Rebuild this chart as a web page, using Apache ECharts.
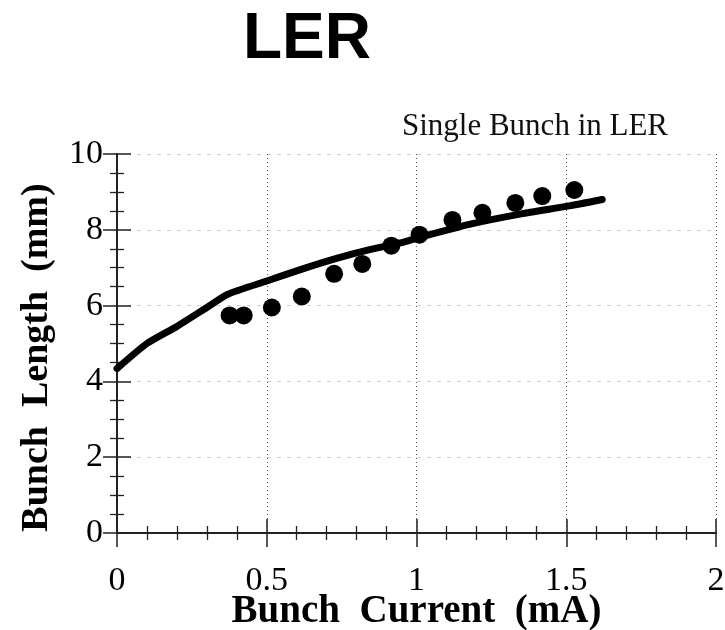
<!DOCTYPE html>
<html>
<head>
<meta charset="utf-8">
<script src="https://cdn.jsdelivr.net/npm/echarts@6/dist/echarts.min.js"></script>
<style>
  html, body { margin: 0; padding: 0; background: #fff; }
  #chart { width: 725px; height: 630px; }
</style>
</head>
<body>
<div id="chart"></div>
<script>
// Simulated bunch length vs. current (solid curve)
const curveCurrent = [0, 0.1, 0.2, 0.3, 0.37, 0.5, 0.62, 0.73, 0.84, 0.95, 1.01, 1.18, 1.35, 1.51, 1.62];
const curveLength  = [4.34, 5.0, 5.45, 5.95, 6.3, 6.65, 6.97, 7.24, 7.47, 7.66, 7.8, 8.15, 8.42, 8.63, 8.8];

// Measured single-bunch lengths (dots)
const measCurrent = [0.376, 0.423, 0.517, 0.617, 0.725, 0.819, 0.916, 1.01, 1.12, 1.22, 1.33, 1.42, 1.527];
const measLength  = [5.74, 5.74, 5.95, 6.24, 6.84, 7.1, 7.58, 7.87, 8.26, 8.45, 8.71, 8.89, 9.05];

const xTickLabels = ['0', '0.5', '1', '1.5', '2'];
const yTickLabels = ['0', '2', '4', '6', '8', '10'];

const serif = '"Liberation Serif", "Times New Roman", serif';
const sans = '"Liberation Sans", Arial, Helvetica, sans-serif';

const chart = echarts.init(document.getElementById('chart'), null, { renderer: 'canvas' });

// Frame line and inward-pointing ticks on all four sides
const frameLine = () => ({ show: true, lineStyle: { color: '#222', width: 2 } });
const majorTick = () => ({ show: true, inside: true, length: 14, lineStyle: { color: '#222', width: 1.5 } });
const minorTick = (n) => ({ show: true, splitNumber: n, length: 7, lineStyle: { color: '#222', width: 1.3 } });

chart.setOption({
  animation: false,
  backgroundColor: '#ffffff',
  grid: { left: 117, right: 9, top: 154, bottom: 97, containLabel: false, outerBoundsMode: 'none' },
  graphic: [
    {
      type: 'text',
      style: {
        x: 307, y: 40, text: 'LER',
        font: 'bold 64px ' + sans,
        fill: '#000', textAlign: 'center', textVerticalAlign: 'middle'
      }
    },
    {
      type: 'text',
      style: {
        x: 535, y: 127, text: 'Single Bunch in LER',
        font: '31px ' + serif,
        fill: '#111', textAlign: 'center', textVerticalAlign: 'middle'
      }
    }
  ],
  xAxis: [
    {
      type: 'value', min: 0, max: 2, interval: 0.5, position: 'bottom',
      name: 'Bunch  Current  (mA)', nameLocation: 'middle', nameGap: 59, nameMoveOverlap: false,
      nameTextStyle: { fontFamily: serif, fontWeight: 'bold', fontSize: 39, color: '#000' },
      axisLine: frameLine(), axisTick: majorTick(), minorTick: minorTick(5),
      axisLabel: {
        margin: 31, fontFamily: serif, fontSize: 34, color: '#000',
        formatter: (v) => xTickLabels[Math.round(v / 0.5)]
      },
      splitLine: { show: true, lineStyle: { color: '#555', width: 1, type: [1, 3] } }
    },
    {
      type: 'value', min: 0, max: 2, interval: 0.5, position: 'top',
      axisLine: frameLine(), axisTick: majorTick(), minorTick: minorTick(5),
      axisLabel: { show: false }, splitLine: { show: false }
    }
  ],
  yAxis: [
    {
      type: 'value', min: 0, max: 10, interval: 2, position: 'left',
      name: 'Bunch  Length  (mm)', nameLocation: 'middle', nameGap: 61, nameRotate: 90, nameMoveOverlap: false,
      nameTextStyle: { fontFamily: serif, fontWeight: 'bold', fontSize: 38, color: '#000', padding: [0, 28, 0, 0] },
      axisLine: frameLine(), axisTick: majorTick(), minorTick: minorTick(4),
      axisLabel: {
        margin: 14, fontFamily: serif, fontSize: 34, color: '#000',
        formatter: (v) => yTickLabels[Math.round(v / 2)]
      },
      splitLine: { show: true, lineStyle: { color: '#d0d0d0', width: 1, type: [4, 6] } }
    },
    {
      type: 'value', min: 0, max: 10, interval: 2, position: 'right',
      axisLine: frameLine(), axisTick: majorTick(), minorTick: minorTick(4),
      axisLabel: { show: false }, splitLine: { show: false }
    }
  ],
  series: [
    {
      type: 'line',
      data: curveCurrent.map((x, i) => [x, curveLength[i]]),
      showSymbol: false, smooth: 0.2,
      lineStyle: { color: '#000', width: 7, cap: 'round', join: 'round' },
      z: 3
    },
    {
      type: 'scatter',
      data: measCurrent.map((x, i) => [x, measLength[i]]),
      symbol: 'circle', symbolSize: 18,
      itemStyle: { color: '#000', opacity: 1 },
      z: 4
    }
  ]
});
</script>
</body>
</html>
